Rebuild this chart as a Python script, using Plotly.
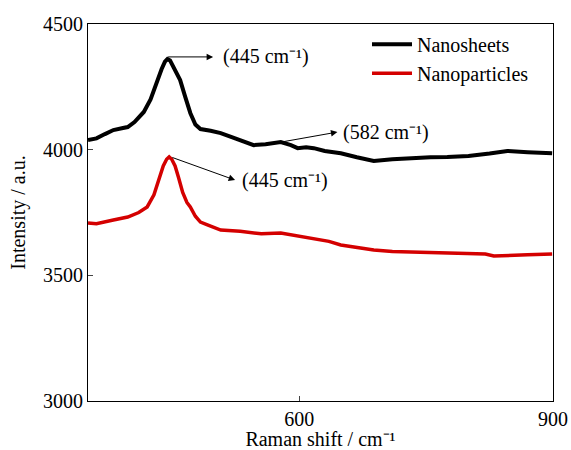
import plotly.graph_objects as go

# Raman shift (cm^-1) and intensity (a.u.)
ns_x = [350, 360, 370, 380, 390, 397, 405, 416, 424, 432, 437, 441, 444, 447, 451, 455, 459, 465, 471, 477, 483, 495, 507, 520, 535, 546, 560, 578, 590, 598, 608, 617, 630, 649, 668, 688, 710, 735, 755, 775, 800, 825, 846, 870, 899]
ns_y = [4038, 4045, 4062, 4078, 4085, 4090, 4110, 4150, 4200, 4277, 4320, 4350, 4361, 4355, 4330, 4300, 4277, 4210, 4146, 4100, 4082, 4075, 4066, 4050, 4030, 4018, 4022, 4030, 4018, 4006, 4010, 4006, 3995, 3986, 3970, 3955, 3962, 3967, 3970, 3971, 3975, 3985, 3995, 3990, 3986]

np_x = [350, 360, 380, 397, 410, 420, 428, 434, 439, 443, 446, 449, 453, 457, 462, 467, 471, 477, 483, 492, 507, 530, 555, 578, 600, 617, 635, 649, 668, 688, 710, 735, 760, 790, 820, 830, 846, 870, 899]
np_y = [3708, 3705, 3720, 3732, 3750, 3772, 3820, 3880, 3935, 3962, 3971, 3962, 3935, 3890, 3830, 3790, 3772, 3735, 3712, 3700, 3680, 3675, 3665, 3668, 3655, 3648, 3635, 3621, 3610, 3601, 3595, 3593, 3590, 3589, 3585, 3577, 3578, 3582, 3585]

# annotation anchors: (tail x, tail y, head x, head y, label x, label)
arrows = [
    (443, 4369, 498, 4369, 507, "(445 cm\u207b\u00b9)"),
    (578, 4030, 645, 4070, 649, "(582 cm\u207b\u00b9)"),
    (448, 3971, 524, 3879, 530, "(445 cm\u207b\u00b9)"),
]

FONT = "Liberation Serif"
FS = 20

fig = go.Figure()
fig.add_trace(go.Scatter(x=ns_x, y=ns_y, mode="lines", name="Nanosheets",
                         line=dict(color="#000000", width=4)))
fig.add_trace(go.Scatter(x=np_x, y=np_y, mode="lines", name="Nanoparticles",
                         line=dict(color="#d40000", width=3.5)))

for tx, ty, hx, hy, lx, lab in arrows:
    fig.add_annotation(x=hx, y=hy, ax=tx, ay=ty, xref="x", yref="y",
                       axref="x", ayref="y", text="", showarrow=True,
                       arrowhead=2, arrowsize=1.3, arrowwidth=1, arrowcolor="#000000")
    fig.add_annotation(x=lx, y=hy, xref="x", yref="y", text=lab,
                       showarrow=False, xanchor="left", yanchor="middle",
                       font=dict(family=FONT, size=FS, color="#000000"))

fig.update_layout(
    width=571, height=450,
    margin=dict(l=88, r=18, t=24, b=49),
    paper_bgcolor="white", plot_bgcolor="white",
    font=dict(family=FONT, size=FS, color="#000000"),
    showlegend=True,
    legend=dict(x=0.60, y=0.998, xanchor="left", yanchor="top",
                bgcolor="rgba(0,0,0,0)", font=dict(family=FONT, size=FS),
                tracegroupgap=0, itemwidth=40),
)
fig.update_xaxes(range=[350, 900], tickvals=[600, 900], ticks="inside", ticklen=5,
                 showline=True, linecolor="#000000", linewidth=1, mirror=True,
                 showgrid=False, zeroline=False, automargin=False,
                 tickfont=dict(family=FONT, size=FS),
                 title=dict(text="Raman shift / cm\u207b\u00b9", standoff=0,
                            font=dict(family=FONT, size=FS)))
fig.update_yaxes(range=[3000, 4500], tickvals=[3000, 3500, 4000, 4500], ticks="inside",
                 ticklen=5, showline=True, linecolor="#000000", linewidth=1, mirror=True,
                 showgrid=False, zeroline=False, automargin=False,
                 tickfont=dict(family=FONT, size=FS),
                 title=dict(text="Intensity / a.u.", standoff=12,
                            font=dict(family=FONT, size=FS)))

fig.write_html("out.html", config={"displayModeBar": False},
               post_script="document.body.style.margin='0';document.body.style.overflow='hidden';")
